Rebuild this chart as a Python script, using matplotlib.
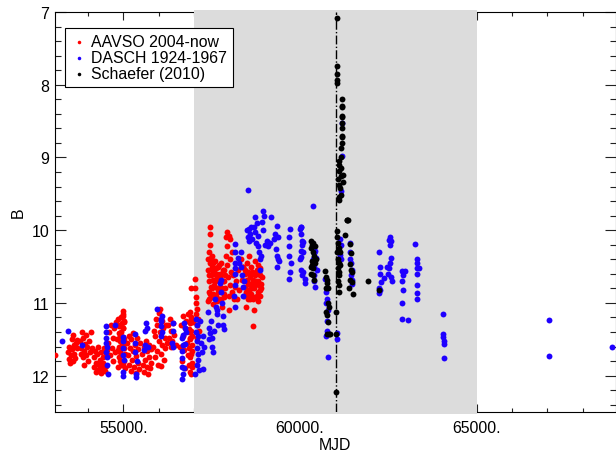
import matplotlib
matplotlib.use('Agg')
import matplotlib.pyplot as plt
from matplotlib.ticker import MultipleLocator, FuncFormatter

plt.rcParams['font.family'] = ['Liberation Sans', 'DejaVu Sans']

# AAVSO 2004-now (MJD, B)
aavso_mjd = [53070,
    53450, 53460, 53480, 53500, 53520, 53540, 53560, 53570, 53590, 53600, 53620, 53640, 53660, 53680, 53700,
    53790, 53800, 53810, 53830, 53850, 53870, 53880, 53900, 53920, 53940, 53960, 53980, 54000, 54030, 54060, 54090, 54110,
    54160, 54180, 54200, 54220, 54240, 54260, 54280, 54300, 54320, 54340, 54360, 54380, 54400, 54420, 54440, 54460, 54480, 54500, 54520, 54540,
    54560, 54590, 54620, 54650, 54680, 54700, 54720, 54750, 54780, 54800, 54820, 54840, 54860, 54870, 54880, 54890, 54900, 54910, 54920, 54930,
    54940, 54950, 54960, 54970, 54980, 54990, 55000, 55000, 55010, 55020, 55030, 55040, 55050,
    54860, 54880, 54900, 54920, 54940, 54960, 54980, 55000, 55020, 55040, 54990, 55010,
    55110, 55130, 55150, 55170, 55190, 55210, 55230, 55250, 55270, 55290, 55310, 55330, 55350, 55370, 55390, 55410, 55430, 55450, 55470,
    55540, 55560, 55580, 55600, 55620, 55640, 55660, 55680, 55700, 55720, 55740, 55760, 55780, 55800,
    55850, 55870, 55890, 55910, 55930, 55950, 55970, 55990, 56010, 56020, 56040, 56050, 56070, 56090, 56110, 56130, 56150, 56170, 56190, 56210, 56230, 56070,
    56280, 56300, 56320, 56340, 56360, 56380, 56400, 56440, 56480,
    56620, 56640, 56660, 56680, 56700, 56720, 56740, 56760, 56780, 56800, 56820, 56840, 56850, 56860, 56870, 56880, 56890, 56900, 56910, 56920,
    56930, 56940, 56950, 56960, 56970, 56860, 56880, 56900, 56920, 56940, 56960, 56900, 56920, 56920,
    57030, 57040, 57050, 57060, 57070, 57080, 57090, 57100, 57120, 57150,
    57395, 57400, 57410, 57420, 57430, 57440, 57450, 57455, 57460, 57470, 57480, 57490, 57500, 57510, 57520, 57530, 57540, 57550, 57560, 57580,
    57600, 57620, 57640, 57660, 57680, 57700, 57720,
    57420, 57440, 57460, 57480, 57500, 57520, 57540, 57560, 57580, 57600, 57620, 57640, 57660, 57680, 57700, 57720, 57740, 57760, 57780, 57800,
    57820, 57840, 57860, 57880,
    57740, 57760, 57780, 57800, 57820, 57840, 57860, 57880, 57900, 57920, 57930, 57940, 57950, 57960, 57980, 58000, 58010, 58030, 58050, 58070,
    58090, 58110, 58130, 58150, 58000, 58015, 58380,
    58200, 58230, 58260, 58290, 58320, 58350, 58380, 58410, 58440, 58460, 58480, 58500, 58520, 58540, 58560, 58580, 58600, 58620, 58640, 58660,
    58680, 58700, 58720, 58740, 58760, 58780, 58800, 58820, 58840, 58860, 58880, 58900, 58920,
    58460, 58480, 58500, 58520, 58540, 58560, 58580, 58600, 58620, 58640, 58660, 58680, 58700, 58720, 58740, 58760, 58780, 58800, 58820, 58840,
    58860, 58880, 58900]
aavso_b = [11.71,
    11.68, 11.77, 11.60, 11.83, 11.72, 11.64, 11.50, 11.80, 11.44, 11.58, 11.70, 11.76, 11.55, 11.62, 11.51,
    11.52, 11.70, 11.62, 11.40, 11.75, 11.48, 11.66, 11.85, 11.57, 11.44, 11.71, 11.60, 11.80, 11.52, 11.68, 11.40, 11.62,
    11.75, 11.88, 11.66, 11.95, 11.82, 11.70, 11.92, 11.60, 11.85, 11.78, 11.96, 11.68, 11.90, 11.74, 11.83, 11.62, 11.93, 11.71, 11.87, 11.65,
    11.55, 11.40, 11.72, 11.30, 11.62, 11.48, 11.80, 11.35, 11.68, 11.26, 11.50, 11.88, 11.22, 11.42, 11.60, 11.75, 11.30, 11.52, 11.68, 11.85,
    11.20, 11.40, 11.58, 11.72, 11.15, 11.34, 11.11, 11.47, 11.62, 11.80, 11.26, 11.55, 11.90,
    11.65, 11.32, 11.80, 11.45, 11.62, 11.28, 11.86, 11.35, 11.50, 11.70, 11.18, 11.25,
    11.55, 11.72, 11.45, 11.85, 11.62, 11.93, 11.50, 11.78, 11.66, 11.42, 11.88, 11.58, 11.73, 11.96, 11.48, 11.82, 11.64, 11.91, 11.55,
    11.70, 11.85, 11.60, 11.95, 11.78, 11.52, 11.88, 11.66, 11.98, 11.74, 11.58, 11.90, 11.82, 11.64,
    11.60, 11.38, 11.75, 11.45, 11.22, 11.66, 11.30, 11.85, 11.14, 11.52, 11.09, 11.40, 11.70, 11.25, 11.58, 11.35, 11.78, 11.48, 11.62, 11.30, 11.55, 11.87,
    11.30, 11.48, 11.22, 11.60, 11.38, 11.52, 11.28, 11.44, 11.58,
    11.60, 11.30, 11.80, 11.45, 11.18, 11.65, 11.35, 11.90, 11.25, 11.55, 11.72, 11.15, 11.40, 11.85, 11.62, 11.28, 11.50, 11.95, 11.20, 11.70,
    11.38, 11.58, 11.82, 11.45, 11.26, 11.36, 11.75, 11.48, 11.22, 11.88, 11.66, 11.12, 11.98, 10.80,
    10.67, 10.80, 11.00, 11.15, 10.92, 11.30, 11.48, 11.08, 11.22, 11.38,
    10.98, 10.40, 10.55, 10.70, 10.85, 10.30, 9.95, 10.05, 10.20, 10.45, 10.62, 10.78, 10.92, 10.35, 10.50, 10.68, 10.88, 11.02, 10.58, 10.75,
    10.42, 10.90, 10.65, 10.80, 10.50, 10.95, 10.70,
    10.95, 10.62, 10.88, 10.38, 10.55, 10.80, 10.45, 10.92, 10.60, 10.70, 10.52, 10.98, 10.60, 10.85, 10.65, 10.48, 10.78, 10.62, 10.95, 10.80,
    10.55, 10.70, 10.88, 10.62,
    10.60, 10.85, 10.45, 11.05, 10.70, 10.92, 10.55, 10.80, 10.35, 10.10, 10.03, 10.22, 10.48, 10.65, 10.90, 11.10, 10.40, 10.75, 10.58, 10.85,
    10.30, 10.62, 10.95, 10.78, 10.08, 10.12, 10.50,
    10.70, 10.95, 10.55, 10.82, 10.40, 10.68, 10.50, 10.90, 10.60, 10.78, 11.05, 10.45, 10.72, 10.88, 10.35, 10.62, 10.95, 10.50, 10.80, 11.32,
    10.68, 11.10, 10.42, 10.75, 10.58, 10.90, 10.48, 10.70, 10.60, 10.82, 10.52, 10.74, 10.65,
    10.55, 10.85, 10.68, 10.95, 10.58, 10.82, 10.75, 10.65, 10.88, 10.58, 10.72, 10.95, 10.80, 10.62, 10.92, 10.70, 10.55, 10.85, 10.98, 10.75,
    10.62, 10.90, 10.80]

# DASCH 1924-1967 (shifted MJD, B)
dasch_mjd = [53260, 53445, 53825,
    54500, 54510, 54520, 54530, 54540, 54550, 54560, 54520, 54500, 54765,
    54990, 55000, 55010, 55000, 54995, 55005, 55000,
    55330, 55340, 55350, 55390, 55360, 55345,
    55620, 55650, 55620, 55700, 55600, 55680, 55945,
    56070, 56080, 56060, 56090, 56100, 56075,
    56380, 56410, 56395, 56400,
    56660, 56680, 56650, 56670, 56665, 56680, 56655, 56720, 56700, 56720, 56740, 56780, 56760,
    57025, 57060, 57080, 57070, 57100, 57090, 57120, 57110, 57100, 57150, 57130, 57160, 57200, 57230, 57250, 57280, 57260,
    57400, 57420, 57440, 57460, 57480, 57500, 57520, 57540, 57560,
    57600, 57620, 57640, 57660, 57680,
    57740, 57760, 57780, 57800, 57830, 57860, 57820,
    58150, 58160, 58170, 58160, 58150, 58140, 58150, 58170,
    58240, 58280, 58320, 58340, 58360, 58380, 58400, 58420,
    58520, 58500, 58530, 58550, 58560, 58600, 58620, 58640,
    58700, 58720, 58740, 58760, 58780, 58800, 58820, 58840, 58860, 58880, 58900,
    58950, 58980, 59170, 58930, 58960, 59060, 59020, 59100, 59140, 59340, 59300, 59260, 59320, 59380, 59360, 59380, 59360, 59420,
    59710, 59680, 59700, 59690, 59740, 59720, 59700, 59990, 60020, 60060, 59990, 60140,
    60040, 60020, 60060, 60080, 60040, 60020, 60080, 60040, 60090, 60060, 60150,
    60370, 60380, 60400, 60420, 60370, 60390, 60410, 60450, 60390, 60410, 60420, 60480,
    60720, 60740, 60780, 60740, 60800, 60780, 60780, 60740, 60790,
    61040, 61040, 61180, 61180, 61170,
    61130, 61150, 61120, 61130, 61150,
    61430, 61430, 61410, 61450, 61470, 61450, 61470, 61480,
    62250, 62260, 62270, 62290, 62390, 62250, 62270, 62230,
    62470, 62520, 62500, 62560, 62580, 62580, 62600, 62560, 62580, 62540, 62530,
    62900, 62910, 62960, 62900, 62910, 62890, 62900, 63050,
    63270, 63300, 63300, 63320, 63360, 63320, 63300, 63300, 63300,
    64060, 64060, 64050, 64070, 64065, 64065,
    67035, 67035, 68845]
dasch_b = [11.52, 11.38, 11.58,
    11.32, 11.40, 11.48, 11.60, 11.74, 11.85, 11.98, 11.55, 11.68, 11.31,
    11.47, 11.62, 11.78, 11.95, 11.52, 11.71, 12.01,
    11.43, 11.55, 11.98, 11.80, 12.02, 11.68,
    11.38, 11.27, 11.58, 11.60, 11.65, 11.35, 11.09,
    11.22, 11.32, 11.46, 11.18, 11.40, 11.25,
    11.55, 11.61, 11.28, 11.38,
    11.48, 11.58, 11.66, 11.76, 11.88, 11.98, 12.05, 11.90, 11.44, 11.27, 11.35, 11.40, 11.56,
    11.98, 11.22, 11.30, 11.40, 11.52, 11.62, 11.70, 11.78, 11.85, 11.92, 11.45, 11.25, 11.55, 11.68, 11.45, 11.60, 11.91,
    11.13, 11.35, 11.50, 11.42, 11.25, 11.60, 11.48, 11.68, 11.38,
    10.95, 11.05, 11.15, 11.10, 11.30,
    10.72, 10.68, 10.85, 11.00, 11.18, 11.36, 11.30,
    10.19, 10.30, 10.45, 10.60, 10.75, 10.90, 11.06, 10.52,
    10.38, 10.45, 10.30, 10.50, 10.62, 10.78, 10.90, 10.70,
    9.45, 10.00, 10.10, 10.15, 9.98, 10.05, 9.96, 10.12,
    9.95, 9.82, 10.02, 10.18, 9.90, 10.08, 10.22, 10.30, 10.40, 10.55, 10.35,
    9.74, 9.80, 9.82, 9.89, 10.00, 10.15, 10.20, 10.22, 10.18, 9.94, 10.05, 10.12, 10.26, 10.40, 10.51, 10.10, 10.35, 10.42,
    9.99, 10.10, 10.22, 10.35, 10.45, 10.58, 10.67, 9.99, 9.95, 10.20, 10.40, 10.67,
    9.96, 10.05, 10.15, 10.16, 10.28, 10.37, 10.30, 10.55, 10.57, 10.62, 10.72,
    9.67, 10.26, 10.32, 10.28, 10.40, 10.45, 10.50, 10.38, 10.62, 10.70, 10.78, 10.55,
    10.67, 10.85, 10.95, 11.00, 11.10, 11.25, 11.38, 11.46, 11.74,
    11.41, 11.50, 8.52, 8.98, 9.46,
    10.12, 10.20, 10.28, 10.34, 10.40,
    10.18, 10.30, 10.40, 10.45, 10.55, 10.62, 10.68, 10.74,
    10.30, 10.50, 10.60, 10.71, 10.66, 10.80, 10.82, 10.87,
    10.50, 10.52, 10.60, 10.45, 10.38, 10.65, 10.70, 10.10, 10.15, 10.20, 10.13,
    10.56, 10.62, 10.56, 10.70, 10.82, 11.00, 11.22, 11.24,
    10.19, 10.40, 10.45, 10.52, 10.52, 10.60, 10.75, 10.86, 10.94,
    11.15, 11.43, 11.47, 11.52, 11.56, 11.76,
    11.23, 11.73, 11.60]

# Schaefer (2010)
schaefer_mjd = [61045, 61040, 61040, 61045, 61050,
    61190, 61195, 61200, 61185, 61195, 61180, 61180, 61190, 61200, 61185, 61175,
    61170, 61110, 61100, 61170, 61100, 61150, 61090, 61210, 61210, 61100, 61130, 61170, 61110, 61095,
    61320, 61335, 61350, 61290,
    60300, 60320, 60340, 60360, 60380, 60400, 60330, 60350, 60380, 60420, 60440, 60460, 60320, 60360, 60400, 60300,
    60700, 60730, 60760, 60740, 60800, 60780, 60790, 60830, 60730, 60760, 60790, 60780, 60820, 60860,
    61035, 61035, 61035,
    61060, 61060, 61080, 61100, 61130, 61070, 61100, 61080, 61120, 61100, 61090, 61120, 61100, 61060, 61140,
    61420, 61440, 61420, 61450, 61480, 61420, 61460, 61500, 61380,
    61920, 62240]
schaefer_b = [7.08, 7.74, 7.85, 7.93, 7.98,
    8.20, 8.29, 8.30, 8.43, 8.45, 8.53, 8.60, 8.70, 8.72, 8.80, 8.87,
    9.00, 9.05, 9.10, 9.15, 9.18, 9.26, 9.30, 9.24, 9.34, 9.38, 9.42, 9.52, 9.55, 9.58,
    9.86, 9.86, 9.86, 10.06,
    10.25, 10.15, 10.20, 10.30, 10.18, 10.35, 10.42, 10.48, 10.52, 10.45, 10.22, 10.40, 10.60, 10.62, 10.68, 10.50,
    10.56, 10.65, 10.68, 10.79, 10.79, 10.72, 11.00, 11.06, 11.13, 11.16, 11.26, 11.43, 11.43, 11.43,
    11.13, 11.43, 12.23,
    10.01, 10.10, 10.18, 10.25, 10.30, 10.40, 10.45, 10.52, 10.58, 10.62, 10.70, 10.75, 10.85, 10.30, 10.48,
    10.19, 10.32, 10.46, 10.55, 10.58, 10.68, 10.71, 10.88, 10.80,
    10.70, 10.82]

span_start, span_end = 57000, 65000
outburst_mjd = 61035

fig = plt.figure(figsize=(6.16, 4.52), dpi=100)
ax = fig.add_axes([55 / 616, 1 - 413 / 452, 560.5 / 616, 400 / 452])

ax.axvspan(span_start, span_end, ymin=-0.004, ymax=1.004, color='#dcdcdc', lw=0, zorder=2.6, clip_on=False)
ax.axvline(outburst_mjd, color='black', ls='-.', lw=1.0, zorder=2.8)

ax.scatter(aavso_mjd, aavso_b, s=18, c='#ff0000', lw=0, zorder=3, label='AAVSO 2004-now')
ax.scatter(dasch_mjd, dasch_b, s=18, c='#1e00ff', lw=0, zorder=3.1, label='DASCH 1924-1967')
ax.scatter(schaefer_mjd, schaefer_b, s=18, c='black', lw=0, zorder=3.2, label='Schaefer (2010)')

ax.set_xlim(53070, 68930)
ax.set_ylim(12.5, 7)

ax.xaxis.set_major_locator(MultipleLocator(5000))
ax.xaxis.set_minor_locator(MultipleLocator(1000))
ax.yaxis.set_major_locator(MultipleLocator(1))
ax.yaxis.set_minor_locator(MultipleLocator(0.2))
ax.xaxis.set_major_formatter(FuncFormatter(lambda v, p: '%d.' % v))
ax.yaxis.set_major_formatter(FuncFormatter(lambda v, p: '%d' % v))

ax.tick_params(which='both', direction='in', top=True, right=True, width=0.8, color='#222222', labelsize=11.4)
ax.tick_params(axis='x', which='major', length=5.8, pad=6)
ax.tick_params(axis='x', which='minor', length=2.9)
ax.tick_params(axis='y', which='major', length=8, pad=4)
ax.tick_params(axis='y', which='minor', length=4)
for sp in ax.spines.values():
    sp.set_linewidth(0.8)

ax.set_xlabel('MJD', fontsize=11.4, labelpad=1)
ax.set_ylabel('B', fontsize=11.4, labelpad=4)

leg = ax.legend(loc='upper left', bbox_to_anchor=(10 / 561, 1 - 16 / 400), borderaxespad=0,
                fontsize=11.4, markerscale=0.6, handlelength=1.0, handletextpad=0.25,
                labelspacing=0.05, borderpad=0.4, fancybox=False, framealpha=1,
                edgecolor='black', scatterpoints=1)
leg.get_frame().set_linewidth(0.8)
leg.set_zorder(5)

plt.savefig('out.png', dpi=100)
